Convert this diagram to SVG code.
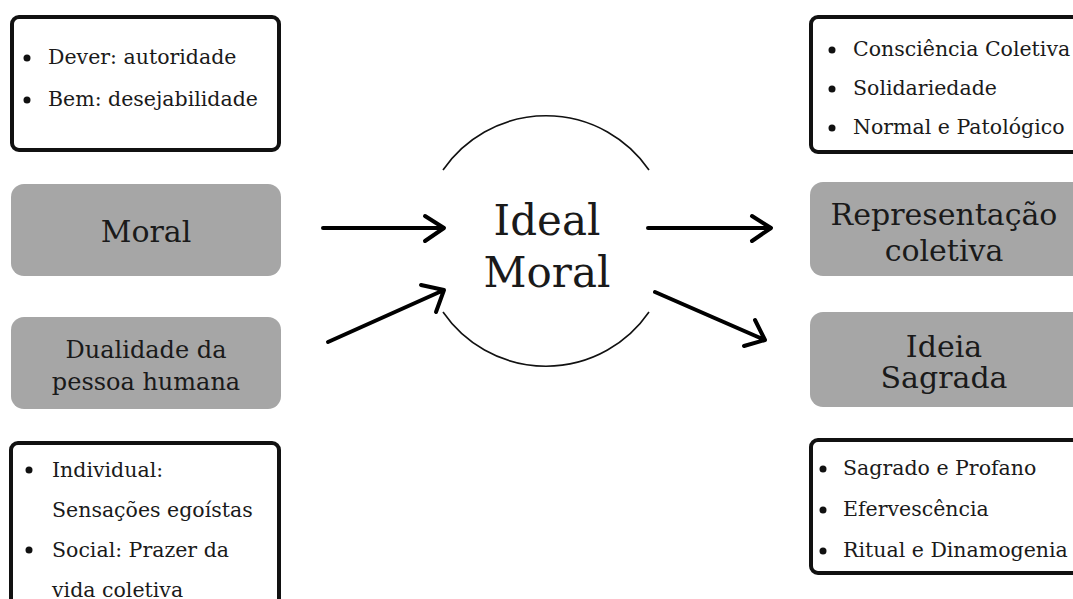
<svg xmlns="http://www.w3.org/2000/svg" width="1073" height="599" viewBox="0 0 1073 599">
<defs>
<style>
.t{font-family:"DejaVu Serif","Liberation Serif",serif;fill:#1a1a1a}
.b{font-size:20.5px}
.n{font-size:30px;text-anchor:middle}
.n2{font-size:24px;text-anchor:middle}
.box{fill:#fff;stroke:#111;stroke-width:4}
.g{fill:#a6a6a6}
.c{fill:none;stroke:#000;stroke-width:4;stroke-linecap:round;stroke-linejoin:round}
</style>
</defs>
<rect width="1073" height="599" fill="#fff"/>
<g id="box-dever">
<rect class="box" x="12" y="17" width="267" height="133" rx="7"/>
<circle cx="27" cy="58" r="3.5" fill="#111"/><text class="t b" x="48" y="64">Dever: autoridade</text>
<circle cx="27" cy="100" r="3.5" fill="#111"/><text class="t b" x="48" y="106">Bem: desejabilidade</text>
</g>
<g id="node-moral">
<rect class="g" x="11" y="184" width="270" height="92" rx="13"/>
<text class="t n" x="146" y="242">Moral</text>
</g>
<g id="node-dualidade">
<rect class="g" x="11" y="317" width="270" height="92" rx="13"/>
<text class="t n2" x="146" y="358">Dualidade da</text>
<text class="t n2" x="146" y="390">pessoa humana</text>
</g>
<g id="box-individual">
<rect class="box" x="11" y="443" width="268" height="180" rx="7"/>
<circle cx="29" cy="470" r="3.5" fill="#111"/><text class="t b" x="52" y="477">Individual:</text>
<text class="t b" x="52" y="517">Sensações egoístas</text>
<circle cx="29" cy="550" r="3.5" fill="#111"/><text class="t b" x="52" y="557">Social: Prazer da</text>
<text class="t b" x="52" y="597">vida coletiva</text>
</g>
<g id="node-ideal">
<path d="M443,170 A125,125 0 0 1 649,170 M443,312 A125,125 0 0 0 649,312" fill="none" stroke="#111" stroke-width="1.6"/>
<text class="t" x="547" y="235" font-size="42" text-anchor="middle">Ideal</text>
<text class="t" x="547" y="287" font-size="42" text-anchor="middle">Moral</text>
</g>
<g id="box-consciencia">
<rect class="box" x="811" y="17" width="280" height="135" rx="7"/>
<circle cx="832" cy="50" r="3.5" fill="#111"/><text class="t b" x="853" y="56">Consciência Coletiva</text>
<circle cx="832" cy="89" r="3.5" fill="#111"/><text class="t b" x="853" y="95">Solidariedade</text>
<circle cx="832" cy="128" r="3.5" fill="#111"/><text class="t b" x="853" y="134">Normal e Patológico</text>
</g>
<g id="node-representacao">
<rect class="g" x="810" y="182" width="280" height="94" rx="13"/>
<text class="t n" x="944" y="225">Representação</text>
<text class="t n" x="944" y="261">coletiva</text>
</g>
<g id="node-ideia">
<rect class="g" x="810" y="312" width="280" height="95" rx="13"/>
<text class="t n" x="944" y="357">Ideia</text>
<text class="t n" x="944" y="388">Sagrada</text>
</g>
<g id="box-sagrado">
<rect class="box" x="811" y="440" width="280" height="133" rx="7"/>
<circle cx="823" cy="469" r="3.5" fill="#111"/><text class="t b" x="843" y="475">Sagrado e Profano</text>
<circle cx="823" cy="510" r="3.5" fill="#111"/><text class="t b" x="843" y="516">Efervescência</text>
<circle cx="823" cy="551" r="3.5" fill="#111"/><text class="t b" x="843" y="557">Ritual e Dinamogenia</text>
</g>
<g id="connectors">
<path class="c" d="M323,228 H444 M425,216 L444,228 L425,241"/>
<path class="c" d="M328,342 L444,290 M421,285 L444,290 L436,312"/>
<path class="c" d="M648,228 H771 M752,216 L771,228 L752,241"/>
<path class="c" d="M655,292 L765,340 M744,346 L765,340 L755,320"/>
</g>
</svg>
